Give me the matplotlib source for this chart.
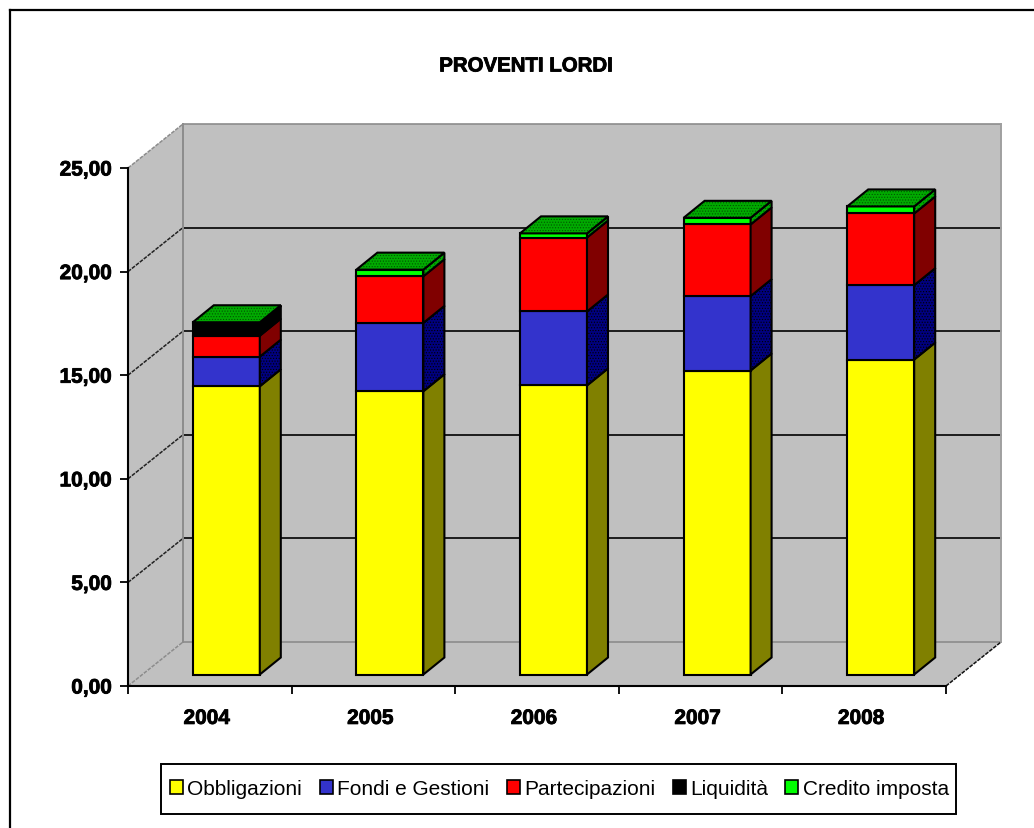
import matplotlib
matplotlib.use('Agg')
import matplotlib.pyplot as plt
import matplotlib.patheffects as pe
from matplotlib.lines import Line2D
from matplotlib.patches import Patch,Rectangle
plt.rcParams['font.family']=['Liberation Sans','DejaVu Sans']
plt.rcParams['hatch.linewidth']=0.5

years=['2004','2005','2006','2007','2008']
names=['Obbligazioni','Fondi e Gestioni','Partecipazioni','Liquidità','Credito imposta']
obbligazioni=[13.91,13.67,13.95,14.67,15.20]
fondi=[1.43,3.30,3.57,3.59,3.59]
partecipazioni=[1.01,2.25,3.57,3.46,3.46]
liquidita=[0.60,0.0,0.0,0.0,0.0]
credito=[0.05,0.32,0.20,0.32,0.34]
series=[obbligazioni,fondi,partecipazioni,liquidita,credito]
yticks=[0,5,10,15,20,25]
ylabels=['0,00','5,00','10,00','15,00','20,00','25,00']

front=['#FFFF00','#3333CC','#FF0000','#000000','#00FF00']
side=['#808000','#000080','#800000','#000000','#00AA00']
GREY='#C0C0C0'

W,H=1034,829
fig=plt.figure(figsize=(W/100,H/100),dpi=100,facecolor='white')
# front plane of the 3d box, everything else hangs off it in data units
ax=fig.add_axes([128/W,1-687/H,818/W,518/H])
ax.set_xlim(-0.5,4.5); ax.set_ylim(0,25)
ax.patch.set_visible(False)
PX=5/818; PY=25/518
DX,DY=55*PX,44*PY      # box depth
BX,BY=16.5*PX,11.5*PY  # bar offset from front plane
BW=67*PX               # bar width
SX,SY=21*PX,17*PY      # bar depth

x0,x1=-0.5,4.5
ax.fill([x0+DX,x1+DX,x1+DX,x0+DX],[DY,DY,25+DY,25+DY],color=GREY,lw=0,clip_on=False,zorder=1)
ax.fill([x0,x0+DX,x0+DX,x0],[0,DY,25+DY,25],color=GREY,lw=0,clip_on=False,zorder=1)
ax.fill([x0,x1,x1+DX,x0+DX],[0,0,DY,DY],color=GREY,lw=0,clip_on=False,zorder=1)

for t in yticks:
    c='#8c8c8c' if t in (0,25) else 'black'
    ax.plot([x0+DX,x1+DX],[t+DY,t+DY],color=c,lw=1.2,clip_on=False,zorder=2)
    ax.plot([x0,x0+DX],[t,t+DY],color='#8c8c8c' if t in (0,25) else '#222222',lw=1.1,ls=(0,(2.5,0.8)),clip_on=False,zorder=2)
ax.plot([x0+DX,x0+DX],[DY,25+DY],color='#8c8c8c',lw=1.4,clip_on=False,zorder=2)
ax.plot([x1+DX,x1+DX],[DY,25+DY],color='#a0a0a0',lw=1.4,clip_on=False,zorder=2)
ax.plot([x1,x1+DX],[0,DY],color='#111111',lw=1.1,ls=(0,(2.5,0.8)),clip_on=False,zorder=2)

def face(xs,ys,col,z,dots=None):
    ax.fill(xs,ys,facecolor=col,edgecolor='none',clip_on=False,zorder=z)
    if dots:
        ax.fill(xs,ys,facecolor='none',edgecolor=dots,hatch='......',lw=0,clip_on=False,zorder=z)
    ax.fill(xs,ys,facecolor='none',edgecolor='black',lw=1.5,clip_on=False,zorder=z,joinstyle='miter')

for i in range(len(years)):
    left=i-BW/2+BX; right=left+BW
    base=BY; z=3+i
    for j in range(len(series)):
        v=series[j][i]
        if v<=0: continue
        ax.bar(left,v,width=BW,bottom=base,align='edge',color=front[j],edgecolor='black',lw=1.5,clip_on=False,zorder=z)
        face([right,right+SX,right+SX,right],[base,base+SY,base+v+SY,base+v],side[j],z,
             dots='#000000' if j==1 else ('#005500' if j==4 else None))
        base+=v
    face([left,left+SX,right+SX,right],[base,base+SY,base+SY,base],'#00AA00',z,dots='#005500')

ax.spines['top'].set_visible(False); ax.spines['right'].set_visible(False)
for s in ('left','bottom'):
    ax.spines[s].set_linewidth(1.5); ax.spines[s].set_zorder(2.5)
heavy=[pe.withStroke(linewidth=0.6,foreground='black')]
ax.set_yticks(yticks); ax.set_yticklabels(ylabels,fontsize=15,fontweight='bold',path_effects=heavy)
ax.set_xticks([v-0.5 for v in range(len(years)+1)]); ax.set_xticklabels([])
ax.set_xticks([v-3*PX for v in range(len(years))],minor=True)
ax.set_xticklabels(years,minor=True,fontsize=15,fontweight='bold',path_effects=heavy)
ax.tick_params(axis='x',which='minor',length=0,pad=16.5)
ax.tick_params(axis='x',which='major',length=5.5,width=1.3)
ax.tick_params(axis='y',length=5.5,width=1.3,pad=6)

fig.text(526/W,1-67/H,'PROVENTI LORDI',ha='center',va='center',fontsize=14.7,fontweight='bold',path_effects=heavy)

# legend frame drawn apart: it is wider than tall compared with the default padding
fig.add_artist(Rectangle((161/W,1-815/H),795/W,50/H,transform=fig.transFigure,facecolor='white',edgecolor='black',lw=1.4))
handles=[Patch(facecolor=c,edgecolor='black',lw=1.2) for c in front]
leg=fig.legend(handles,names,ncol=5,loc='center',bbox_to_anchor=(559.5/W,1-790/H),fontsize=15,frameon=False,
               handlelength=0.62,handleheight=0.62,handletextpad=0.2,columnspacing=0.85,borderaxespad=0)
leg.set_zorder(5)

# chart border, only top and left visible in the crop
fig.add_artist(Line2D([10/W,10/W],[0,1-10.5/H],color='black',lw=1.6))
fig.add_artist(Line2D([10/W,1],[1-10.5/H,1-10.5/H],color='black',lw=1.6))

fig.savefig('out.png',dpi=100)
